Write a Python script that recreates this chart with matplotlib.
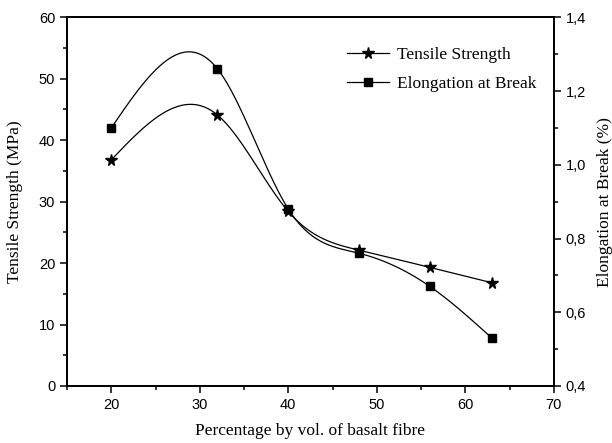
import numpy as np
import matplotlib.pyplot as plt
from matplotlib.ticker import MultipleLocator, FuncFormatter

# fibre content (% by vol.)
fibre = [20, 32, 40, 48, 56, 63]
# tensile strength (MPa), left axis
tensile = [36.8, 44.1, 28.4, 22.1, 19.3, 16.8]
# elongation at break (%), right axis
elongation = [1.10, 1.26, 0.88, 0.76, 0.67, 0.53]


def natural_spline(x, y, n=300):
    # smooth connecting line through the points (natural cubic spline)
    x = np.asarray(x, float)
    y = np.asarray(y, float)
    k = len(x)
    h = np.diff(x)
    A = np.zeros((k, k))
    b = np.zeros(k)
    A[0, 0] = A[-1, -1] = 1
    for i in range(1, k - 1):
        A[i, i - 1] = h[i - 1]
        A[i, i] = 2 * (h[i - 1] + h[i])
        A[i, i + 1] = h[i]
        b[i] = 6 * ((y[i + 1] - y[i]) / h[i] - (y[i] - y[i - 1]) / h[i - 1])
    M = np.linalg.solve(A, b)
    xs = np.linspace(x[0], x[-1], n)
    idx = np.clip(np.searchsorted(x, xs) - 1, 0, k - 2)
    x0, x1 = x[idx], x[idx + 1]
    hh = x1 - x0
    ys = (M[idx] * (x1 - xs) ** 3 / (6 * hh) + M[idx + 1] * (xs - x0) ** 3 / (6 * hh)
          + (y[idx] / hh - M[idx] * hh / 6) * (x1 - xs)
          + (y[idx + 1] / hh - M[idx + 1] * hh / 6) * (xs - x0))
    return xs, ys


tick_font = 'Liberation Sans'
label_font = 'Liberation Serif'

fig = plt.figure(figsize=(6.12, 4.43), dpi=100)
ax = fig.add_axes([0.1095, 0.1287, 0.7955, 0.8322])
ax2 = ax.twinx()

xs, ys = natural_spline(fibre, tensile)
ax.plot(xs, ys, color='black', lw=0.9)
ax.plot(fibre, tensile, ls='none', marker='*', ms=8.5, color='black')

xs2, ys2 = natural_spline(fibre, elongation)
ax2.plot(xs2, ys2, color='black', lw=0.9)
ax2.plot(fibre, elongation, ls='none', marker='s', ms=6, color='black')

# legend handles
ax.plot([], [], color='black', lw=0.9, marker='*', ms=8.5, label='Tensile Strength')
ax.plot([], [], color='black', lw=0.9, marker='s', ms=6, label='Elongation at Break')
ax.legend(loc='upper right', bbox_to_anchor=(0.996, 0.962), frameon=False,
          prop={'family': label_font, 'size': 12.5}, handlelength=2.4,
          handletextpad=0.45, labelspacing=0.75)

ax.set_xlim(15, 70)
ax.set_ylim(0, 60)
ax2.set_ylim(0.4, 1.4)

ax.xaxis.set_major_locator(MultipleLocator(10))
ax.xaxis.set_minor_locator(MultipleLocator(5))
ax.yaxis.set_major_locator(MultipleLocator(10))
ax.yaxis.set_minor_locator(MultipleLocator(5))
ax2.yaxis.set_major_locator(MultipleLocator(0.2))
ax2.yaxis.set_minor_locator(MultipleLocator(0.1))
ax2.yaxis.set_major_formatter(FuncFormatter(lambda v, p: f'{v:.1f}'.replace('.', ',')))

for a in (ax, ax2):
    for s in a.spines.values():
        s.set_linewidth(1.3)
    a.tick_params(which='major', direction='out', length=5, width=1.1, labelsize=10.5)
    a.tick_params(which='minor', direction='out', length=3, width=1.1)
    for lab in a.get_xticklabels() + a.get_yticklabels():
        lab.set_fontfamily(tick_font)

ax.set_xlabel('Percentage by vol. of basalt fibre', fontfamily=label_font, fontsize=12.5)
ax.set_ylabel('Tensile Strength (MPa)', fontfamily=label_font, fontsize=12.5)
ax2.set_ylabel('Elongation at Break (%)', fontfamily=label_font, fontsize=12.5, rotation=90)
ax.xaxis.set_label_coords(0.5, -0.100)
ax.yaxis.set_label_coords(-0.090, 0.5)
ax2.yaxis.set_label_coords(1.088, 0.5)

fig.savefig('out.png', dpi=100)
